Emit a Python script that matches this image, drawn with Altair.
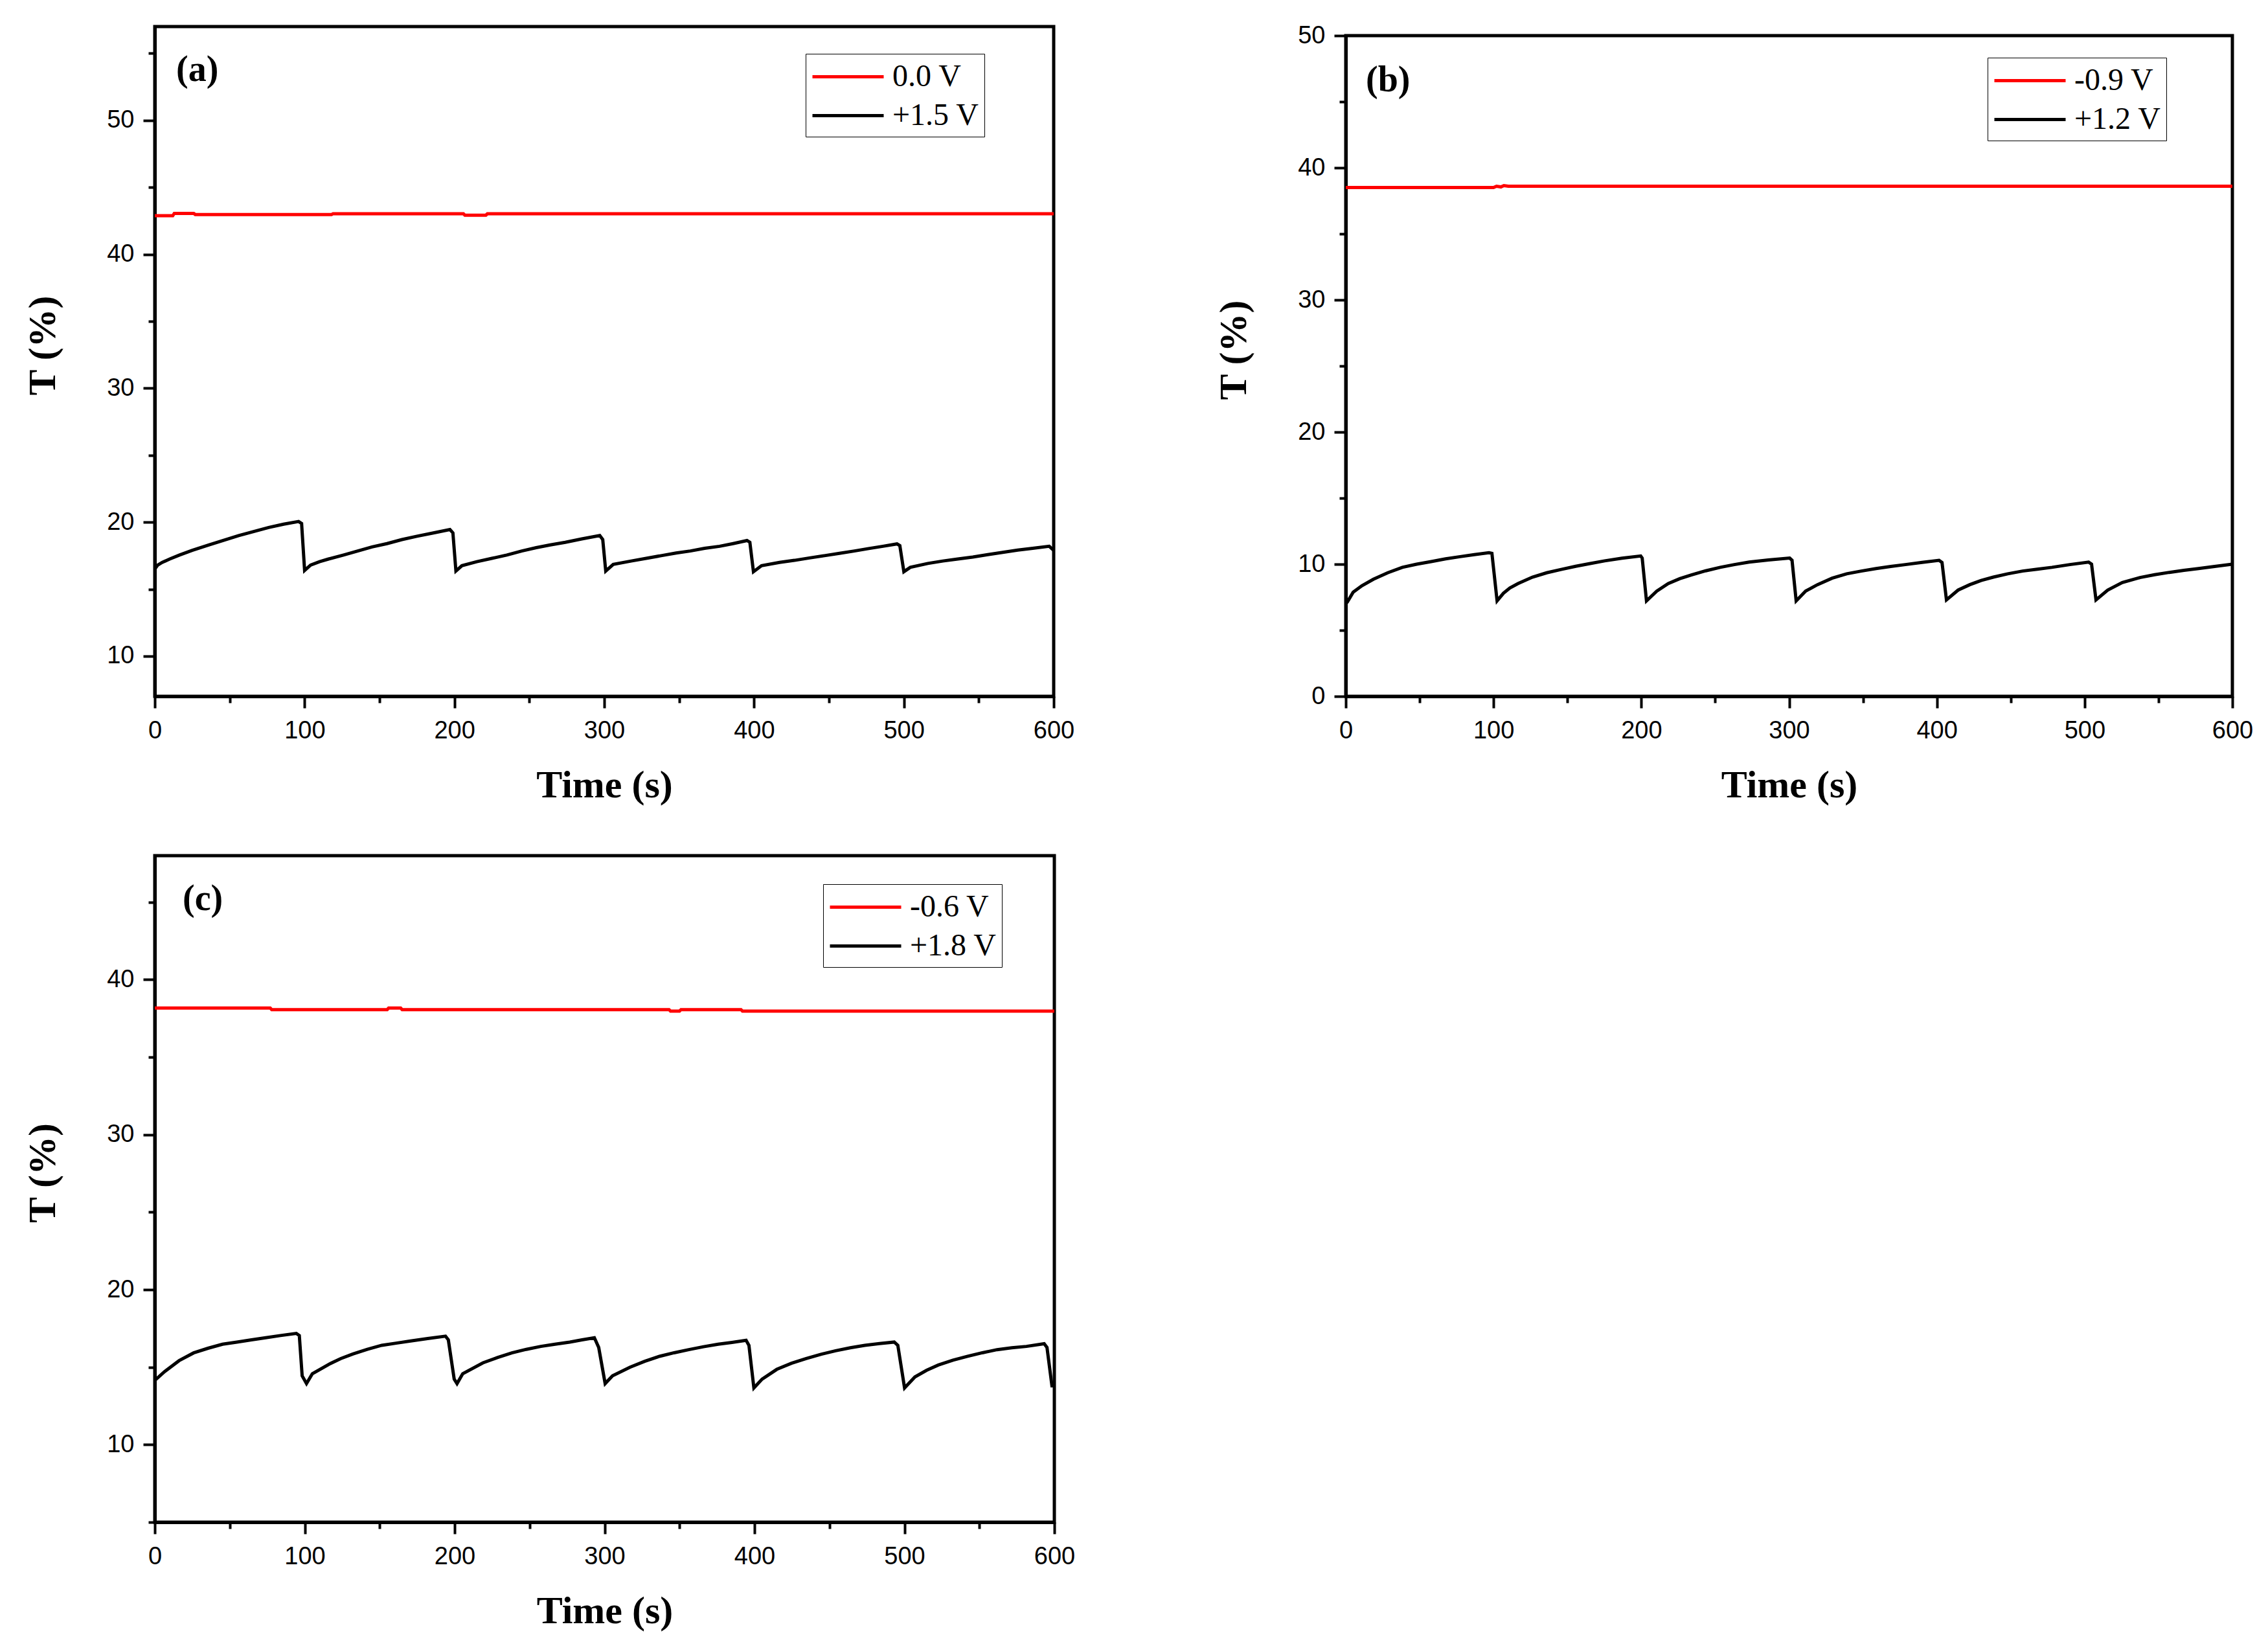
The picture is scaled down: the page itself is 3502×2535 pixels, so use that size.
import altair as alt
import pandas as pd

# ---------------- data ----------------
x_ticks = [0, 50, 100, 150, 200, 250, 300, 350, 400, 450, 500, 550, 600]

# panel (a)
a_labels = ["0.0 V", "+1.5 V"]
a_red_t = [0, 12, 13, 26, 27, 118, 119, 206, 207, 221, 222, 600]
a_red_v = [42.88, 42.88, 43.05, 43.05, 42.97, 42.97, 43.03, 43.03, 42.92, 42.92, 43.02, 43.02]
a_blk_t = [0, 2, 5, 10, 16.5, 25, 36, 46, 56, 66, 76, 86, 96, 98, 100, 104, 110, 116, 126,
           135.5, 145, 155, 165, 175, 186, 197, 199, 201, 205, 215, 225, 235, 245, 254.6,
           264, 274, 285, 297, 299, 301, 306, 318, 328, 338, 348, 357.5, 367, 377, 386,
           395.3, 397.2, 399.6, 405, 417, 427, 437, 447, 457, 467, 476.5, 486, 495.4,
           497.3, 500, 504.3, 516, 526, 536, 546, 556, 566, 576, 586, 597, 600]
a_blk_v = [16.5, 16.8, 17.0, 17.25, 17.55, 17.9, 18.3, 18.65, 19.0, 19.3, 19.6, 19.85, 20.05,
           19.9, 16.4, 16.8, 17.05, 17.25, 17.55, 17.85, 18.15, 18.4, 18.7, 18.95, 19.2,
           19.45, 19.2, 16.35, 16.75, 17.05, 17.3, 17.55, 17.85, 18.1, 18.3, 18.5, 18.75,
           19.0, 18.7, 16.35, 16.85, 17.1, 17.3, 17.5, 17.7, 17.85, 18.05, 18.2, 18.4,
           18.63, 18.5, 16.3, 16.75, 17.0, 17.15, 17.33, 17.5, 17.67, 17.85, 18.03, 18.2,
           18.38, 18.25, 16.3, 16.63, 16.92, 17.1, 17.25, 17.4, 17.58, 17.75, 17.92, 18.05,
           18.2, 17.9]
a_y_ticks = [10, 15, 20, 25, 30, 35, 40, 45, 50, 55]

# panel (b)
b_labels = ["-0.9 V", "+1.2 V"]
b_red_t = [0, 100, 102, 105, 107, 110, 600]
b_red_v = [38.5, 38.5, 38.6, 38.55, 38.65, 38.6, 38.6]
b_blk_t = [0, 1.1, 5, 10.9, 18.7, 28.4, 38.3, 48, 57.8, 67.6, 77.4, 87, 96.9, 98.9, 102.4,
           106.7, 111, 116.5, 126.3, 136, 145.8, 155.6, 165.4, 175.2, 187, 199.6, 200.6,
           203.5, 210.4, 218.2, 226, 233.9, 243.6, 253.4, 263, 273, 286, 300.4, 302, 304.8,
           311.2, 319.2, 329.1, 339, 348.9, 358.9, 368.8, 378.7, 390, 401.5, 403.5, 406.5,
           414.4, 422.3, 430, 438.2, 448, 458, 468, 477.9, 490, 502.7, 504.7, 507.7, 515.6,
           525.5, 537.5, 547.4, 557.3, 567.2, 577.1, 588, 600]
b_blk_v = [7.0, 7.14, 7.88, 8.37, 8.86, 9.35, 9.76, 10.0, 10.2, 10.4, 10.57, 10.72, 10.87,
           10.82, 7.22, 7.8, 8.2, 8.53, 9.02, 9.35, 9.6, 9.84, 10.05, 10.25, 10.45, 10.62,
           10.46, 7.22, 7.96, 8.53, 8.9, 9.18, 9.5, 9.76, 9.97, 10.16, 10.32, 10.46, 10.3,
           7.22, 7.96, 8.45, 8.94, 9.27, 9.48, 9.67, 9.83, 9.97, 10.13, 10.29, 10.13, 7.3,
           8.04, 8.45, 8.77, 9.02, 9.27, 9.48, 9.62, 9.76, 9.97, 10.16, 10.0, 7.3, 8.04,
           8.61, 8.99, 9.2, 9.38, 9.53, 9.67, 9.83, 10.0]
b_y_ticks = [0, 5, 10, 15, 20, 25, 30, 35, 40, 45, 50]

# panel (c)
c_labels = ["-0.6 V", "+1.8 V"]
c_red_t = [0, 77, 78, 155, 156, 164, 165, 343, 344, 350, 351, 391, 392, 600]
c_red_v = [38.17, 38.17, 38.07, 38.07, 38.17, 38.17, 38.07, 38.07, 37.97, 37.97, 38.07,
           38.07, 37.97, 37.97]
c_blk_t = [0, 6.6, 16.2, 25.9, 35.5, 45.2, 54.8, 64.5, 74, 83.8, 94.4, 96.4, 98.3, 101.2,
           105.1, 116.6, 124, 132.1, 141.8, 151.4, 161, 170.7, 182, 193.9, 195.8, 199.7,
           201.6, 205.4, 218.9, 228.5, 238.2, 247.8, 257.5, 267, 276.8, 285, 293.2, 296.1,
           300.4, 305.3, 317, 326.8, 336.6, 346.4, 356.2, 366, 375.8, 385, 394.4, 396.3,
           399.6, 405.1, 414.9, 424.7, 434.5, 444.3, 454.1, 463.9, 473.6, 483.4, 493.2,
           495.6, 500.1, 507, 514.8, 522.6, 532.4, 542.2, 552, 561.8, 571.6, 581.4, 593.2,
           595.1, 598.4, 600]
c_blk_v = [14.15, 14.72, 15.42, 15.92, 16.22, 16.48, 16.62, 16.76, 16.9, 17.04, 17.18,
           17.04, 14.44, 13.94, 14.58, 15.21, 15.55, 15.85, 16.15, 16.41, 16.55, 16.69,
           16.85, 17.0, 16.76, 14.23, 13.94, 14.58, 15.28, 15.62, 15.92, 16.15, 16.34,
           16.48, 16.62, 16.76, 16.9, 16.27, 13.94, 14.44, 15.0, 15.38, 15.7, 15.93, 16.13,
           16.32, 16.48, 16.6, 16.73, 16.41, 13.66, 14.23, 14.86, 15.25, 15.56, 15.83,
           16.06, 16.25, 16.41, 16.52, 16.62, 16.41, 13.66, 14.37, 14.8, 15.14, 15.45, 15.7,
           15.93, 16.13, 16.25, 16.34, 16.51, 16.27, 13.8, 13.8]
c_y_ticks = [5, 10, 15, 20, 25, 30, 35, 40, 45]

SERIF = "Liberation Serif"
SANS = "Liberation Sans"


def major(step, yes, no):
    return {"condition": {"test": f"datum.value % {step} === 0", "value": yes}, "value": no}


def panel(labels, red_t, red_v, blk_t, blk_v, ydom, yticks, letter, w, h,
          lx, ly, tx, ty):
    df = pd.DataFrame({
        "t": red_t + blk_t,
        "v": red_v + blk_v,
        "s": [labels[0]] * len(red_t) + [labels[1]] * len(blk_t),
    })
    xaxis = alt.Axis(
        title="Time (s)", values=x_ticks, labelFlush=False,
        labelExpr="datum.value % 100 === 0 ? datum.label : ''",
        tickSize=major(100, 18, 10),
    )
    yaxis = alt.Axis(
        title="T (%)", values=yticks, labelFlush=False,
        labelExpr="datum.value % 10 === 0 ? datum.label : ''",
        tickSize=major(10, 18, 10),
        titleY=h / 2 - 25,
    )
    lines = alt.Chart(df).mark_line(strokeWidth=5, clip=True).encode(
        x=alt.X("t:Q", scale=alt.Scale(domain=[0, 600], nice=False, zero=False), axis=xaxis),
        y=alt.Y("v:Q", scale=alt.Scale(domain=ydom, nice=False, zero=False), axis=yaxis),
        color=alt.Color(
            "s:N",
            scale=alt.Scale(domain=labels, range=["#ff0000", "#000000"]),
            legend=alt.Legend(
                title=None, orient="none", legendX=lx, legendY=ly, direction="vertical",
                padding=8, strokeColor="black", fillColor="white",
                labelFont=SERIF, labelFontSize=48, labelColor="black",
                symbolType="M-1,0L3.4,0", symbolSize=2500, symbolStrokeWidth=5,
                labelOffset=71, rowPadding=8,
            ),
        ),
    )
    txt = alt.Chart(pd.DataFrame({"l": [letter]})).mark_text(
        font=SERIF, fontWeight="bold", fontSize=56, align="left", baseline="middle",
        color="black",
    ).encode(text="l:N", x=alt.value(tx), y=alt.value(ty))
    return alt.layer(lines, txt).properties(width=w, height=h)


pa = panel(a_labels, a_red_t, a_red_v, a_blk_t, a_blk_v, [7, 57], a_y_ticks, "(a)",
           1388, 1034, 1005, 42, 33, 67)
pb = panel(b_labels, b_red_t, b_red_v, b_blk_t, b_blk_v, [0, 50], b_y_ticks, "(b)",
           1369, 1020, 991, 48, 31, 69)
pc = panel(c_labels, c_red_t, c_red_v, c_blk_t, c_blk_v, [5, 48], c_y_ticks, "(c)",
           1389, 1029, 1032, 44, 43, 67)

# empty spacer that lowers panel (b) a little below panel (a), as in the figure
spacer = alt.Chart(pd.DataFrame({"z": [0]})).mark_point(opacity=0).encode(
    x=alt.X("z:Q", axis=None), y=alt.Y("z:Q", axis=None)
).properties(width=10, height=14, view=alt.ViewBackground(strokeOpacity=0))

col_b = alt.vconcat(spacer, pb, spacing=0, bounds="flush")

chart = alt.ConcatChart(
    concat=[pa, col_b, pc], columns=2, align="none", bounds="flush",
    spacing={"row": 246, "column": 450},
).resolve_scale(color="independent").properties(
    padding={"left": 26, "top": 25, "right": 5, "bottom": 5}
).configure_view(
    stroke="black", strokeWidth=5
).configure_axis(
    domainColor="black", domainWidth=5, tickColor="black", tickWidth=4,
    labelFont=SANS, labelFontSize=38, labelColor="black",
    titleFont=SERIF, titleFontWeight="bold", titleFontSize=60, titleColor="black",
    grid=False,
).configure_axisX(labelPadding=16, titlePadding=36).configure_axisY(
    labelPadding=14, titlePadding=67
)

chart.save("out.html", embed_options={"renderer": "svg", "actions": False})
